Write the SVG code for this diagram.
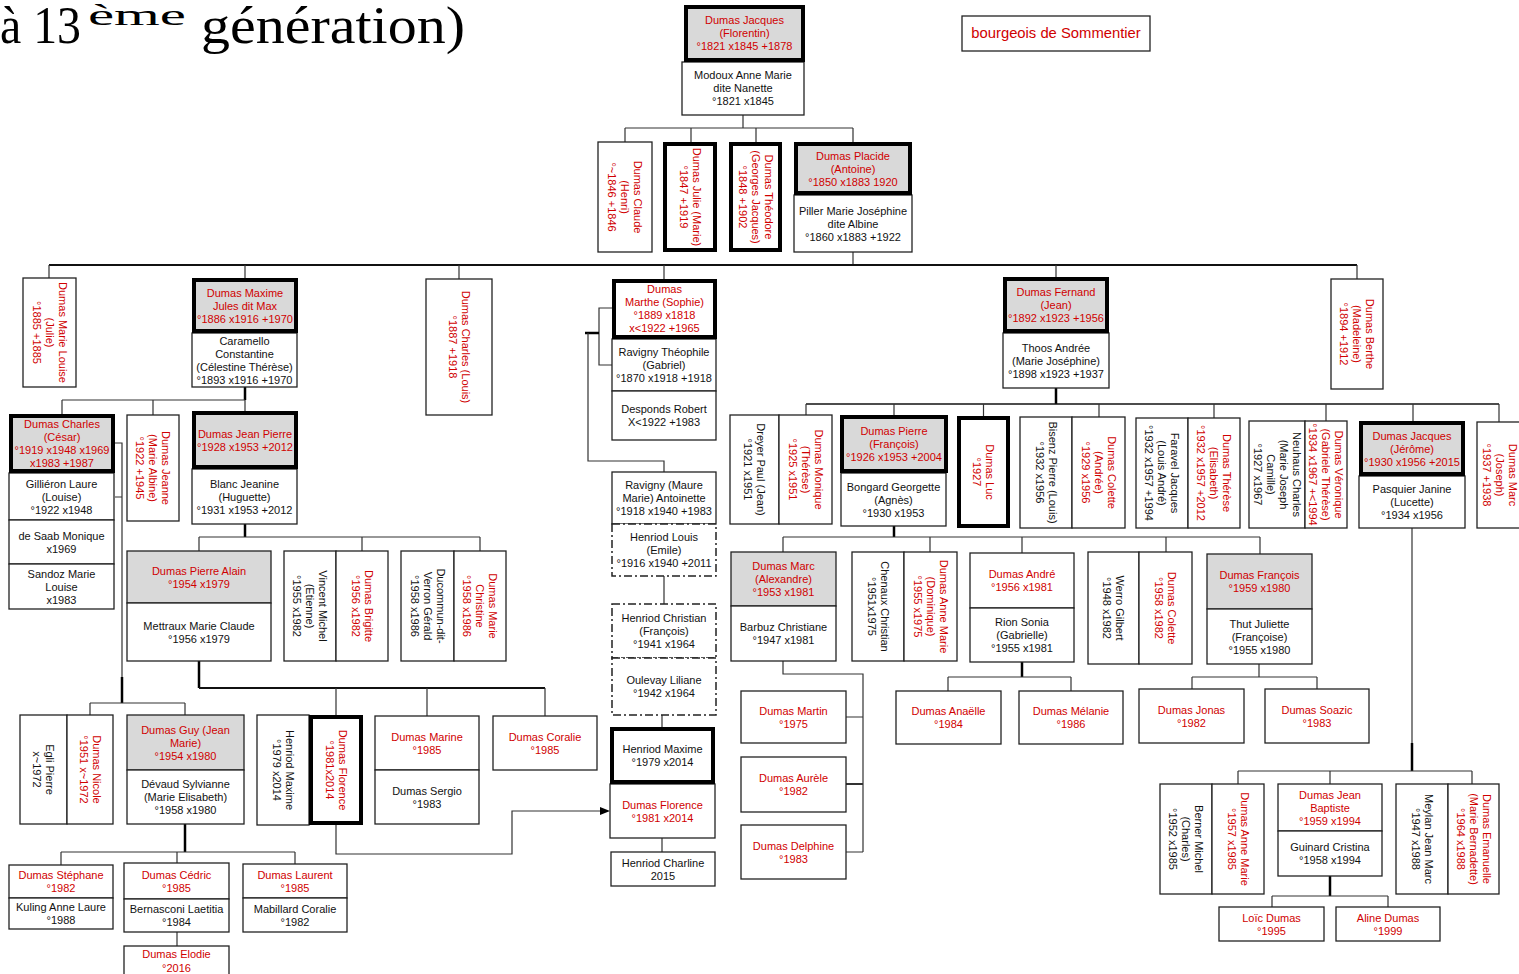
<svg xmlns="http://www.w3.org/2000/svg" width="1519" height="974" viewBox="0 0 1519 974">
<defs>
<style>
.b{fill:#fff;stroke:#222;stroke-width:1.3}
.g{fill:#d9d9d9;stroke:#222;stroke-width:1.3}
.tk{stroke:#000;stroke-width:4}
.dd{fill:#fff;stroke:#222;stroke-width:1.5;stroke-dasharray:8 3 2 3}
text{font-family:"Liberation Sans",Arial,sans-serif;font-size:11px;text-anchor:middle}
.r{fill:#d00000}
.k{fill:#111}
.c{fill:none;stroke:#333;stroke-width:1.2}
.ct{fill:none;stroke:#000;stroke-width:2.5}
.ttl{font-family:"Liberation Serif","DejaVu Serif",serif;font-size:52px;text-anchor:start;fill:#000}
</style>
<marker id="arr" viewBox="0 0 10 8" refX="0" refY="4" markerWidth="10" markerHeight="8" orient="auto" markerUnits="userSpaceOnUse"><path d="M0,0L10,4L0,8z" fill="#000"/></marker>
</defs>
<rect width="1519" height="974" fill="#fff"/>

<g id="title">
<text class="ttl" x="0" y="43" textLength="81" lengthAdjust="spacingAndGlyphs">à 13</text>
<text class="ttl" x="88" y="25" style="font-size:29px" textLength="98" lengthAdjust="spacingAndGlyphs">ème</text>
<text class="ttl" x="201" y="43" textLength="264" lengthAdjust="spacingAndGlyphs">génération)</text>
</g>

<g id="connectors">
<path class="c" d="M743,115V128M625,128H853M625,128V142M691,128V142M756,128V142M853,128V142"/>
<path class="c" d="M853,252V265"/>
<path class="c" style="stroke:#111;stroke-width:2" d="M49,265H1357"/>
<path class="c" d="M49,265V278M245,265V278M459,265V279M664,265V279M1056,265V277M1357,265V279"/>
<path class="ct" d="M245,387V400"/>
<path class="c" d="M62,400H245M62,400V414M153,400V415M245,400V411"/>
<path class="c" d="M115,443H122V677M115,497H122"/>
<path class="ct" d="M122,677V703"/>
<path class="c" d="M90,703H185M90,703V715M185,703V715"/>
<path class="ct" d="M245,524V537"/>
<path class="c" d="M199,537H480M199,537V551M362,537V551M480,537V551"/>
<path class="ct" d="M199,661V688"/>
<path class="c" style="stroke-width:1.8;stroke:#111" d="M199,688H545"/>
<path class="c" d="M336,688V715M427,688V716M545,688V716"/>
<path class="ct" d="M185,824V852"/>
<path class="c" d="M61,852H295M61,852V865M177,852V863M295,852V864"/>
<path class="c" d="M177,932V946"/>
<path class="c" d="M612,308H599V365H612"/>
<path class="ct" d="M585,333H599"/>
<path class="c" d="M588,333V461H664V472"/>
<path class="c" d="M664,576V604M662,715V727M662,838V852"/>
<path class="c" d="M336,825V854H512V811H600" marker-end="url(#arr)"/>
<path class="ct" d="M1056,388V404"/>
<path class="c" style="stroke-width:1.6;stroke:#111" d="M806,404H1499"/>
<path class="c" d="M806,404V415M894,404V415M983.5,404V416M1099,404V417M1214,404V418M1326,404V421M1413,404V421M1499,404V422"/>
<path class="ct" d="M894,526V537"/>
<path class="c" d="M783,537H1260M783,537V552M930,537V552M1022,537V553M1166,537V552M1260,537V554"/>
<path class="c" d="M783,661V674H863V852M846,717H863M846,852H863"/>
<path class="c" style="stroke-width:2" d="M846,784H863"/>
<path class="ct" d="M1022,662V677"/>
<path class="c" d="M948,677H1071M948,677V691M1071,677V691"/>
<path class="c" d="M1259,664V677M1192,677H1317M1192,677V689M1317,677V689"/>
<path class="c" d="M1412,528V743"/>
<path class="ct" d="M1412,743V771"/>
<path class="c" d="M1238,771H1472M1238,771V784M1330,771V784M1472,771V784"/>
<path class="ct" d="M1330,876V896"/>
<path class="c" d="M1272,896H1388M1272,896V907M1388,896V907"/>
</g>

<g id="legend">
<rect class="b" x="962" y="16" width="188" height="35"/>
<text class="r" x="1056" y="38" style="font-size:14.8px">bourgeois de Sommentier</text>
</g>

<g id="jacques-florentin">
<rect class="b" x="682" y="62" width="122" height="53"/>
<text class="k"><tspan x="743" y="79">Modoux Anne Marie</tspan><tspan x="743" y="92">dite Nanette</tspan><tspan x="743" y="105">°1821 x1845</tspan></text>
<rect class="g tk" x="686" y="7" width="117" height="53"/>
<text class="r"><tspan x="744.5" y="24">Dumas Jacques</tspan><tspan x="744.5" y="37">(Florentin)</tspan><tspan x="744.5" y="50">°1821 x1845 +1878</tspan></text>
</g>

<g id="claude">
<rect class="b" x="598" y="142" width="54" height="110"/>
<text class="r" transform="translate(625,197) rotate(90)"><tspan x="0" y="-9">Dumas Claude</tspan><tspan x="0" y="4">(Henri)</tspan><tspan x="0" y="17">°~1846 +1846</tspan></text>
</g>
<g id="julie">
<rect class="b tk" x="665" y="144" width="50" height="106"/>
<text class="r" transform="translate(690,197) rotate(90)"><tspan x="0" y="-2.5">Dumas Julie (Marie)</tspan><tspan x="0" y="10.5">°1847 +1919</tspan></text>
</g>
<g id="theodore">
<rect class="b tk" x="731" y="144" width="49" height="106"/>
<text class="r" transform="translate(755.5,197) rotate(90)"><tspan x="0" y="-9">Dumas Théodore</tspan><tspan x="0" y="4">(Georges Jacques)</tspan><tspan x="0" y="17">°1848 +1902</tspan></text>
</g>
<g id="placide">
<rect class="b" x="794" y="195" width="118" height="57"/>
<text class="k"><tspan x="853" y="214.5">Piller Marie Joséphine</tspan><tspan x="853" y="227.5">dite Albine</tspan><tspan x="853" y="240.5">°1860 x1883 +1922</tspan></text>
<rect class="g tk" x="796" y="144" width="114" height="49"/>
<text class="r"><tspan x="853" y="159.5">Dumas Placide</tspan><tspan x="853" y="172.5">(Antoine)</tspan><tspan x="853" y="185.5">°1850 x1883 1920</tspan></text>
</g>

<g id="marie-louise">
<rect class="b" x="23" y="278" width="53" height="109"/>
<text class="r" transform="translate(49.5,332.5) rotate(90)"><tspan x="0" y="-9">Dumas Marie Louise</tspan><tspan x="0" y="4">(Julie)</tspan><tspan x="0" y="17">°1885 +1885</tspan></text>
</g>
<g id="maxime">
<rect class="b" x="192" y="333" width="105" height="54"/>
<text class="k"><tspan x="244.5" y="344.5">Caramello</tspan><tspan x="244.5" y="357.5">Constantine</tspan><tspan x="244.5" y="370.5">(Célestine Thérèse)</tspan><tspan x="244.5" y="383.5">°1893 x1916 +1970</tspan></text>
<rect class="g tk" x="194" y="280" width="102" height="51"/>
<text class="r"><tspan x="245" y="296.5">Dumas Maxime</tspan><tspan x="245" y="309.5">Jules dit Max</tspan><tspan x="245" y="322.5">°1886 x1916 +1970</tspan></text>
</g>
<g id="charles-louis">
<rect class="b" x="426" y="279" width="66" height="136"/>
<text class="r" transform="translate(459,347) rotate(90)"><tspan x="0" y="-2.5">Dumas Charles (Louis)</tspan><tspan x="0" y="10.5">°1887 +1918</tspan></text>
</g>
<g id="marthe">
<rect class="b" x="612" y="339" width="104" height="52"/>
<text class="k"><tspan x="664" y="356">Ravigny Théophile</tspan><tspan x="664" y="369">(Gabriel)</tspan><tspan x="664" y="382">°1870 x1918 +1918</tspan></text>
<rect class="b" x="612" y="391" width="104" height="49"/>
<text class="k"><tspan x="664" y="413">Desponds Robert</tspan><tspan x="664" y="426">X&lt;1922 +1983</tspan></text>
<rect class="b tk" x="614" y="281" width="101" height="56"/>
<text class="r"><tspan x="664.5" y="292.5">Dumas</tspan><tspan x="664.5" y="305.5">Marthe (Sophie)</tspan><tspan x="664.5" y="318.5">°1889 x1818</tspan><tspan x="664.5" y="331.5">x&lt;1922 +1965</tspan></text>
</g>
<g id="fernand">
<rect class="b" x="1003" y="333" width="106" height="55"/>
<text class="k"><tspan x="1056" y="351.5">Thoos Andrée</tspan><tspan x="1056" y="364.5">(Marie Joséphine)</tspan><tspan x="1056" y="377.5">°1898 x1923 +1937</tspan></text>
<rect class="g tk" x="1005" y="279" width="102" height="52"/>
<text class="r"><tspan x="1056" y="296">Dumas Fernand</tspan><tspan x="1056" y="309">(Jean)</tspan><tspan x="1056" y="322">°1892 x1923 +1956</tspan></text>
</g>
<g id="berthe">
<rect class="b" x="1331" y="279" width="52" height="110"/>
<text class="r" transform="translate(1357,334) rotate(90)"><tspan x="0" y="-9">Dumas Berthe</tspan><tspan x="0" y="4">(Madeleine)</tspan><tspan x="0" y="17">°1894 +1912</tspan></text>
</g>

<g id="charles-cesar">
<rect class="b" x="9" y="473" width="105" height="47"/>
<text class="k"><tspan x="61.5" y="487.5">Gilliéron Laure</tspan><tspan x="61.5" y="500.5">(Louise)</tspan><tspan x="61.5" y="513.5">°1922 x1948</tspan></text>
<rect class="b" x="9" y="520" width="105" height="44"/>
<text class="k"><tspan x="61.5" y="539.5">de Saab Monique</tspan><tspan x="61.5" y="552.5">x1969</tspan></text>
<rect class="b" x="9" y="564" width="105" height="45"/>
<text class="k"><tspan x="61.5" y="577.5">Sandoz Marie</tspan><tspan x="61.5" y="590.5">Louise</tspan><tspan x="61.5" y="603.5">x1983</tspan></text>
<rect class="g tk" x="11" y="416" width="102" height="55"/>
<text class="r"><tspan x="62" y="428">Dumas Charles</tspan><tspan x="62" y="441">(César)</tspan><tspan x="62" y="454">°1919 x1948 x1969</tspan><tspan x="62" y="467">x1983 +1987</tspan></text>
</g>
<g id="jeanne">
<rect class="b" x="127" y="415" width="52" height="106"/>
<text class="r" transform="translate(153,468) rotate(90)"><tspan x="0" y="-9">Dumas Jeanne</tspan><tspan x="0" y="4">(Marie Albine)</tspan><tspan x="0" y="17">°1922 +1945</tspan></text>
</g>
<g id="jean-pierre">
<rect class="b" x="192" y="469" width="105" height="55"/>
<text class="k"><tspan x="244.5" y="487.5">Blanc Jeanine</tspan><tspan x="244.5" y="500.5">(Huguette)</tspan><tspan x="244.5" y="513.5">°1931 x1953 +2012</tspan></text>
<rect class="g tk" x="194" y="413" width="102" height="54"/>
<text class="r"><tspan x="245" y="437.5">Dumas Jean Pierre</tspan><tspan x="245" y="450.5">°1928 x1953 +2012</tspan></text>
</g>

<g id="pierre-alain">
<rect class="g" x="127" y="551" width="144" height="52"/>
<text class="r"><tspan x="199" y="574.5">Dumas Pierre Alain</tspan><tspan x="199" y="587.5">°1954 x1979</tspan></text>
<rect class="b" x="127" y="603" width="144" height="58"/>
<text class="k"><tspan x="199" y="629.5">Mettraux Marie Claude</tspan><tspan x="199" y="642.5">°1956 x1979</tspan></text>
</g>
<g id="brigitte">
<rect class="b" x="284" y="551" width="52" height="110"/>
<text class="k" transform="translate(310,606) rotate(90)"><tspan x="0" y="-9">Vincent Michel</tspan><tspan x="0" y="4">(Etienne)</tspan><tspan x="0" y="17">°1955 x1982</tspan></text>
<rect class="b" x="336" y="551" width="52" height="110"/>
<text class="r" transform="translate(362,606) rotate(90)"><tspan x="0" y="-2.5">Dumas Brigitte</tspan><tspan x="0" y="10.5">°1956 x1982</tspan></text>
</g>
<g id="christine">
<rect class="b" x="401" y="551" width="53" height="110"/>
<text class="k" transform="translate(427.5,606) rotate(90)"><tspan x="0" y="-9">Ducommun-dit-</tspan><tspan x="0" y="4">Verron Gérald</tspan><tspan x="0" y="17">°1958 x1986</tspan></text>
<rect class="b" x="454" y="551" width="52" height="110"/>
<text class="r" transform="translate(480,606) rotate(90)"><tspan x="0" y="-9">Dumas Marie</tspan><tspan x="0" y="4">Christine</tspan><tspan x="0" y="17">°1958 x1986</tspan></text>
</g>

<g id="nicole">
<rect class="b" x="20" y="715" width="47" height="109"/>
<text class="k" transform="translate(43.5,769.5) rotate(90)"><tspan x="0" y="-2.5">Egli Pierre</tspan><tspan x="0" y="10.5">x~1972</tspan></text>
<rect class="b" x="67" y="715" width="46" height="109"/>
<text class="r" transform="translate(90,769.5) rotate(90)"><tspan x="0" y="-2.5">Dumas Nicole</tspan><tspan x="0" y="10.5">°1951 x~1972</tspan></text>
</g>
<g id="guy">
<rect class="g" x="127" y="715" width="117" height="55"/>
<text class="r"><tspan x="185.5" y="733.5">Dumas Guy (Jean</tspan><tspan x="185.5" y="746.5">Marie)</tspan><tspan x="185.5" y="759.5">°1954 x1980</tspan></text>
<rect class="b" x="127" y="770" width="117" height="54"/>
<text class="k"><tspan x="185.5" y="788">Dévaud Sylvianne</tspan><tspan x="185.5" y="801">(Marie Elisabeth)</tspan><tspan x="185.5" y="814">°1958 x1980</tspan></text>
</g>
<g id="florence-v">
<rect class="b" x="257" y="715" width="52" height="110"/>
<text class="k" transform="translate(283,770) rotate(90)"><tspan x="0" y="-2.5">Henriod Maxime</tspan><tspan x="0" y="10.5">°1979 x2014</tspan></text>
<rect class="b tk" x="311" y="717" width="50" height="106"/>
<text class="r" transform="translate(336,770) rotate(90)"><tspan x="0" y="-2.5">Dumas Florence</tspan><tspan x="0" y="10.5">°1981x2014</tspan></text>
</g>
<g id="marine">
<rect class="b" x="375" y="716" width="104" height="54"/>
<text class="r"><tspan x="427" y="740.5">Dumas Marine</tspan><tspan x="427" y="753.5">°1985</tspan></text>
<rect class="b" x="375" y="770" width="104" height="54"/>
<text class="k"><tspan x="427" y="794.5">Dumas Sergio</tspan><tspan x="427" y="807.5">°1983</tspan></text>
</g>
<g id="coralie">
<rect class="b" x="493" y="716" width="104" height="54"/>
<text class="r"><tspan x="545" y="740.5">Dumas Coralie</tspan><tspan x="545" y="753.5">°1985</tspan></text>
</g>

<g id="stephane">
<rect class="b" x="9" y="865" width="104" height="33"/>
<text class="r"><tspan x="61" y="879">Dumas Stéphane</tspan><tspan x="61" y="892">°1982</tspan></text>
<rect class="b" x="9" y="898" width="104" height="31"/>
<text class="k"><tspan x="61" y="911">Kuling Anne Laure</tspan><tspan x="61" y="924">°1988</tspan></text>
</g>
<g id="cedric">
<rect class="b" x="124" y="863" width="105" height="36"/>
<text class="r"><tspan x="176.5" y="878.5">Dumas Cédric</tspan><tspan x="176.5" y="891.5">°1985</tspan></text>
<rect class="b" x="124" y="899" width="105" height="33"/>
<text class="k"><tspan x="176.5" y="913">Bernasconi Laetitia</tspan><tspan x="176.5" y="926">°1984</tspan></text>
</g>
<g id="elodie">
<rect class="b" x="124" y="946" width="105" height="40"/>
<text class="r"><tspan x="176.5" y="958">Dumas Elodie</tspan><tspan x="176.5" y="972">°2016</tspan></text>
</g>
<g id="laurent">
<rect class="b" x="243" y="864" width="104" height="34"/>
<text class="r"><tspan x="295" y="878.5">Dumas Laurent</tspan><tspan x="295" y="891.5">°1985</tspan></text>
<rect class="b" x="243" y="898" width="104" height="34"/>
<text class="k"><tspan x="295" y="912.5">Mabillard Coralie</tspan><tspan x="295" y="925.5">°1982</tspan></text>
</g>

<g id="antoinette">
<rect class="b" x="612" y="472" width="104" height="52"/>
<text class="k"><tspan x="664" y="489">Ravigny (Maure</tspan><tspan x="664" y="502">Marie) Antoinette</tspan><tspan x="664" y="515">°1918 x1940 +1983</tspan></text>
<rect class="dd" x="612" y="524" width="104" height="52"/>
<text class="k"><tspan x="664" y="541">Henriod Louis</tspan><tspan x="664" y="554">(Emile)</tspan><tspan x="664" y="567">°1916 x1940 +2011</tspan></text>
</g>
<g id="henriod-christian">
<rect class="dd" x="612" y="604" width="104" height="54"/>
<text class="k"><tspan x="664" y="622">Henriod Christian</tspan><tspan x="664" y="635">(François)</tspan><tspan x="664" y="648">°1941 x1964</tspan></text>
<rect class="dd" x="612" y="658" width="104" height="57"/>
<text class="k"><tspan x="664" y="684">Oulevay Liliane</tspan><tspan x="664" y="697">°1942 x1964</tspan></text>
</g>
<g id="henriod-maxime">
<rect class="b" x="610" y="784" width="105" height="54"/>
<text class="r"><tspan x="662.5" y="808.5">Dumas Florence</tspan><tspan x="662.5" y="821.5">°1981 x2014</tspan></text>
<rect class="b tk" x="612" y="729" width="101" height="53"/>
<text class="k"><tspan x="662.5" y="753">Henriod Maxime</tspan><tspan x="662.5" y="766">°1979 x2014</tspan></text>
</g>
<g id="charline">
<rect class="b" x="611" y="852" width="104" height="34"/>
<text class="k"><tspan x="663" y="867">Henriod Charline</tspan><tspan x="663" y="880">2015</tspan></text>
</g>

<g id="monique">
<rect class="b" x="730" y="415" width="49" height="109"/>
<text class="k" transform="translate(754.5,469.5) rotate(90)"><tspan x="0" y="-2.5">Dreyer Paul (Jean)</tspan><tspan x="0" y="10.5">°1921 x1951</tspan></text>
<rect class="b" x="779" y="415" width="53" height="109"/>
<text class="r" transform="translate(805.5,469.5) rotate(90)"><tspan x="0" y="-9">Dumas Monique</tspan><tspan x="0" y="4">(Thérèse)</tspan><tspan x="0" y="17">°1925 x1951</tspan></text>
</g>
<g id="pierre-francois">
<rect class="b" x="841" y="473" width="105" height="53"/>
<text class="k"><tspan x="893.5" y="490.5">Bongard Georgette</tspan><tspan x="893.5" y="503.5">(Agnès)</tspan><tspan x="893.5" y="516.5">°1930 x1953</tspan></text>
<rect class="g tk" x="842" y="417" width="104" height="54"/>
<text class="r"><tspan x="894" y="435">Dumas Pierre</tspan><tspan x="894" y="448">(François)</tspan><tspan x="894" y="461">°1926 x1953 +2004</tspan></text>
</g>
<g id="luc">
<rect class="b tk" x="959" y="418" width="49" height="108"/>
<text class="r" transform="translate(983.5,472) rotate(90)"><tspan x="0" y="-2.5">Dumas Luc</tspan><tspan x="0" y="10.5">°1927</tspan></text>
</g>
<g id="colette-andree">
<rect class="b" x="1020" y="417" width="52" height="111"/>
<text class="k" transform="translate(1046,472.5) rotate(90)"><tspan x="0" y="-2.5">Bisenz Pierre (Louis)</tspan><tspan x="0" y="10.5">°1932 x1956</tspan></text>
<rect class="b" x="1072" y="417" width="53" height="111"/>
<text class="r" transform="translate(1098.5,472.5) rotate(90)"><tspan x="0" y="-9">Dumas Colette</tspan><tspan x="0" y="4">(Andrée)</tspan><tspan x="0" y="17">°1929 x1956</tspan></text>
</g>
<g id="therese">
<rect class="b" x="1136" y="418" width="52" height="110"/>
<text class="k" transform="translate(1162,473) rotate(90)"><tspan x="0" y="-9">Faravel Jacques</tspan><tspan x="0" y="4">(Louis André)</tspan><tspan x="0" y="17">°1932 x1957 +1994</tspan></text>
<rect class="b" x="1188" y="418" width="52" height="110"/>
<text class="r" transform="translate(1214,473) rotate(90)"><tspan x="0" y="-9">Dumas Thérèse</tspan><tspan x="0" y="4">(Elisabeth)</tspan><tspan x="0" y="17">°1932 x1957 +2012</tspan></text>
</g>
<g id="veronique">
<rect class="b" x="1249" y="421" width="56" height="107"/>
<text class="k" transform="translate(1277,474.5) rotate(90)"><tspan x="0" y="-15.5">Neuhaus Charles</tspan><tspan x="0" y="-2.5">(Marie Joseph</tspan><tspan x="0" y="10.5">Camille)</tspan><tspan x="0" y="23.5">°1927 x1967</tspan></text>
<rect class="b" x="1305" y="421" width="42" height="107"/>
<text class="r" transform="translate(1326,474.5) rotate(90)"><tspan x="0" y="-9">Dumas Véronique</tspan><tspan x="0" y="4">(Gabriele Thérèse)</tspan><tspan x="0" y="17">°1934 x1967 +&lt;1994</tspan></text>
</g>
<g id="jacques-jerome">
<rect class="b" x="1359" y="476" width="106" height="52"/>
<text class="k"><tspan x="1412" y="493">Pasquier Janine</tspan><tspan x="1412" y="506">(Lucette)</tspan><tspan x="1412" y="519">°1934 x1956</tspan></text>
<rect class="g tk" x="1361" y="423" width="102" height="51"/>
<text class="r"><tspan x="1412" y="439.5">Dumas Jacques</tspan><tspan x="1412" y="452.5">(Jérôme)</tspan><tspan x="1412" y="465.5">°1930 x1956 +2015</tspan></text>
</g>
<g id="marc-joseph">
<rect class="b" x="1477" y="422" width="60" height="106"/>
<text class="r" transform="translate(1499.5,475) rotate(90)"><tspan x="0" y="-9">Dumas Marc</tspan><tspan x="0" y="4">(Joseph)</tspan><tspan x="0" y="17">°1937 +1938</tspan></text>
</g>

<g id="marc-alexandre">
<rect class="g" x="731" y="552" width="105" height="54"/>
<text class="r"><tspan x="783.5" y="570">Dumas Marc</tspan><tspan x="783.5" y="583">(Alexandre)</tspan><tspan x="783.5" y="596">°1953 x1981</tspan></text>
<rect class="b" x="731" y="606" width="105" height="55"/>
<text class="k"><tspan x="783.5" y="631">Barbuz Christiane</tspan><tspan x="783.5" y="644">°1947 x1981</tspan></text>
</g>
<g id="anne-marie-dominique">
<rect class="b" x="852" y="552" width="52" height="109"/>
<text class="k" transform="translate(878,606.5) rotate(90)"><tspan x="0" y="-2.5">Chenaux Christian</tspan><tspan x="0" y="10.5">°1951x1975</tspan></text>
<rect class="b" x="904" y="552" width="53" height="109"/>
<text class="r" transform="translate(930.5,606.5) rotate(90)"><tspan x="0" y="-9">Dumas Anne Marie</tspan><tspan x="0" y="4">(Dominique)</tspan><tspan x="0" y="17">°1955 x1975</tspan></text>
</g>
<g id="andre">
<rect class="b" x="970" y="553" width="104" height="55"/>
<text class="r"><tspan x="1022" y="577.5">Dumas André</tspan><tspan x="1022" y="590.5">°1956 x1981</tspan></text>
<rect class="b" x="970" y="608" width="104" height="54"/>
<text class="k"><tspan x="1022" y="626">Rion Sonia</tspan><tspan x="1022" y="639">(Gabrielle)</tspan><tspan x="1022" y="652">°1955 x1981</tspan></text>
</g>
<g id="colette-1958">
<rect class="b" x="1088" y="552" width="51" height="112"/>
<text class="k" transform="translate(1113.5,608) rotate(90)"><tspan x="0" y="-2.5">Werro Gilbert</tspan><tspan x="0" y="10.5">°1948 x1982</tspan></text>
<rect class="b" x="1139" y="552" width="53" height="112"/>
<text class="r" transform="translate(1165.5,608) rotate(90)"><tspan x="0" y="-2.5">Dumas Colette</tspan><tspan x="0" y="10.5">°1958 x1982</tspan></text>
</g>
<g id="francois">
<rect class="g" x="1207" y="554" width="105" height="55"/>
<text class="r"><tspan x="1259.5" y="579">Dumas François</tspan><tspan x="1259.5" y="592">°1959 x1980</tspan></text>
<rect class="b" x="1207" y="609" width="105" height="55"/>
<text class="k"><tspan x="1259.5" y="627.5">Thut Juliette</tspan><tspan x="1259.5" y="640.5">(Françoise)</tspan><tspan x="1259.5" y="653.5">°1955 x1980</tspan></text>
</g>

<g id="martin">
<rect class="b" x="741" y="691" width="105" height="52"/>
<text class="r"><tspan x="793.5" y="714.5">Dumas Martin</tspan><tspan x="793.5" y="727.5">°1975</tspan></text>
</g>
<g id="aurele">
<rect class="b" x="741" y="757" width="105" height="55"/>
<text class="r"><tspan x="793.5" y="782">Dumas Aurèle</tspan><tspan x="793.5" y="795">°1982</tspan></text>
</g>
<g id="delphine">
<rect class="b" x="741" y="825" width="105" height="54"/>
<text class="r"><tspan x="793.5" y="849.5">Dumas Delphine</tspan><tspan x="793.5" y="862.5">°1983</tspan></text>
</g>
<g id="anaelle">
<rect class="b" x="896" y="691" width="105" height="53"/>
<text class="r"><tspan x="948.5" y="715">Dumas Anaëlle</tspan><tspan x="948.5" y="728">°1984</tspan></text>
</g>
<g id="melanie">
<rect class="b" x="1019" y="691" width="104" height="53"/>
<text class="r"><tspan x="1071" y="715">Dumas Mélanie</tspan><tspan x="1071" y="728">°1986</tspan></text>
</g>
<g id="jonas">
<rect class="b" x="1139" y="689" width="105" height="54"/>
<text class="r"><tspan x="1191.5" y="713.5">Dumas Jonas</tspan><tspan x="1191.5" y="726.5">°1982</tspan></text>
</g>
<g id="soazic">
<rect class="b" x="1265" y="689" width="104" height="54"/>
<text class="r"><tspan x="1317" y="713.5">Dumas Soazic</tspan><tspan x="1317" y="726.5">°1983</tspan></text>
</g>

<g id="anne-marie-1957">
<rect class="b" x="1160" y="784" width="52" height="110"/>
<text class="k" transform="translate(1186,839) rotate(90)"><tspan x="0" y="-9">Berner Michel</tspan><tspan x="0" y="4">(Charles)</tspan><tspan x="0" y="17">°1952 x1985</tspan></text>
<rect class="b" x="1212" y="784" width="52" height="110"/>
<text class="r" transform="translate(1238,839) rotate(90)"><tspan x="0" y="-2.5">Dumas Anne Marie</tspan><tspan x="0" y="10.5">°1957 x1985</tspan></text>
</g>
<g id="jean-baptiste">
<rect class="b" x="1278" y="784" width="104" height="47"/>
<text class="r"><tspan x="1330" y="798.5">Dumas Jean</tspan><tspan x="1330" y="811.5">Baptiste</tspan><tspan x="1330" y="824.5">°1959 x1994</tspan></text>
<rect class="b" x="1278" y="831" width="104" height="45"/>
<text class="k"><tspan x="1330" y="851">Guinard Cristina</tspan><tspan x="1330" y="864">°1958 x1994</tspan></text>
</g>
<g id="emanuelle">
<rect class="b" x="1396" y="784" width="52" height="110"/>
<text class="k" transform="translate(1422,839) rotate(90)"><tspan x="0" y="-2.5">Meylan Jean Marc</tspan><tspan x="0" y="10.5">°1947 x1988</tspan></text>
<rect class="b" x="1448" y="784" width="51" height="110"/>
<text class="r" transform="translate(1473.5,839) rotate(90)"><tspan x="0" y="-9">Dumas Emanuelle</tspan><tspan x="0" y="4">(Marie Bernadette)</tspan><tspan x="0" y="17">°1964 x1988</tspan></text>
</g>
<g id="loic">
<rect class="b" x="1219" y="907" width="105" height="34"/>
<text class="r"><tspan x="1271.5" y="921.5">Loïc Dumas</tspan><tspan x="1271.5" y="934.5">°1995</tspan></text>
</g>
<g id="aline">
<rect class="b" x="1336" y="907" width="104" height="34"/>
<text class="r"><tspan x="1388" y="921.5">Aline Dumas</tspan><tspan x="1388" y="934.5">°1999</tspan></text>
</g>
</svg>
